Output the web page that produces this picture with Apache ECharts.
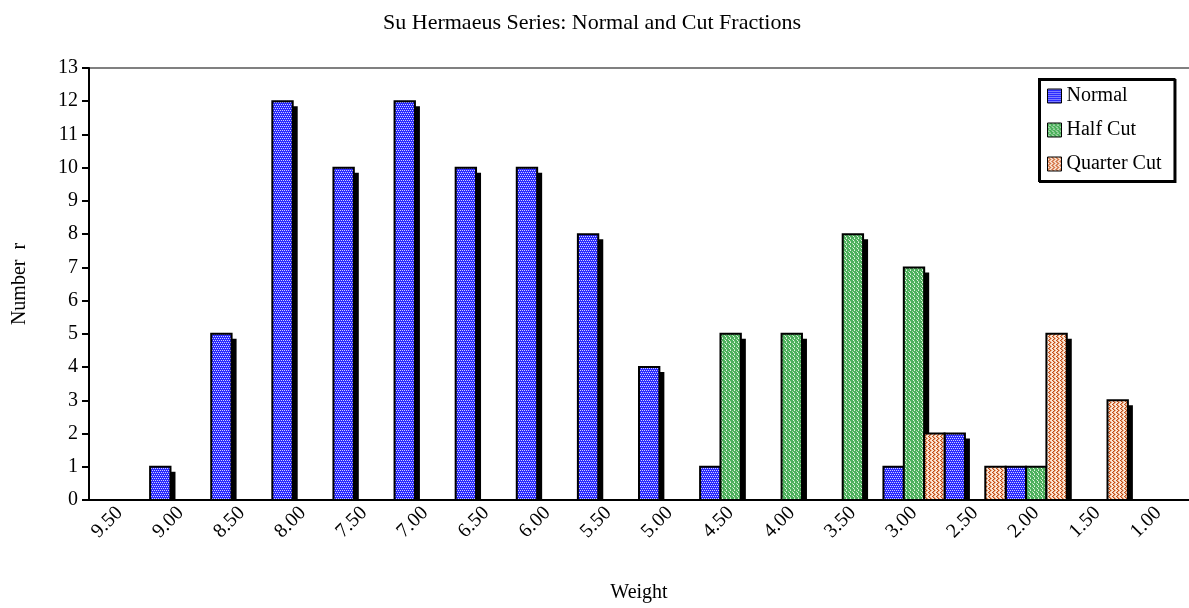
<!DOCTYPE html>
<html>
<head>
<meta charset="utf-8">
<script src="https://cdn.jsdelivr.net/npm/echarts@6/dist/echarts.min.js"></script>
<style>
  html, body { margin: 0; padding: 0; background: #fff; }
  #chart { width: 1189px; height: 608px; }
</style>
</head>
<body>
<div id="chart"></div>
<script>
// weight classes, heaviest first
const categories = ['9.50', '9.00', '8.50', '8.00', '7.50', '7.00', '6.50', '6.00', '5.50',
  '5.00', '4.50', '4.00', '3.50', '3.00', '2.50', '2.00', '1.50', '1.00'];
const normal     = [0, 1, 5, 12, 10, 12, 10, 10, 8, 4, 1, 0, 0, 1, 2, 1, 0, 0];
const halfCut    = [0, 0, 0, 0, 0, 0, 0, 0, 0, 0, 5, 5, 8, 7, 0, 1, 0, 0];
const quarterCut = [0, 0, 0, 0, 0, 0, 0, 0, 0, 0, 0, 0, 0, 2, 1, 5, 3, 0];
const yMin = 0, yMax = 13, yStep = 1;

const FONT = '"Liberation Serif", "Times New Roman", serif';

// small repeating fills, like the old office hatch patterns
function pattern(rows, colors) {
  const c = document.createElement('canvas');
  c.width = rows[0].length;
  c.height = rows.length;
  const ctx = c.getContext('2d');
  rows.forEach((row, y) => {
    for (let x = 0; x < row.length; x++) {
      ctx.fillStyle = colors[row[x]];
      ctx.fillRect(x, y, 1, 1);
    }
  });
  return { image: c, repeat: 'repeat' };
}

const blueFill = pattern([
  'abab',
  'aaaa',
  'baba',
  'aaaa'
], { a: '#2a2aff', b: '#d0d0ff' });

const greenFill = pattern([
  'abaa',
  'aaca',
  'aaba',
  'caaa'
], { a: '#4caf5c', b: '#e8f8e8', c: '#a8dca8' });

const quarterFill = pattern([
  'abcc',
  'cabc',
  'ccab',
  'cabc'
], { a: '#c04a18', b: '#e8a070', c: '#fbe6d6' });

function toPoints(arr) {
  const out = [];
  arr.forEach((v, i) => { if (v) out.push([i, v]); });
  return out;
}

// three slots per weight class, black drop shadow behind every bar
function makeRender(slot, fill) {
  return function (params, api) {
    const i = api.value(0);
    const v = api.value(1);
    const base = api.coord([i, 0]);
    const top = api.coord([i, v]);
    const band = api.size([1, 0])[0];
    const w = band / 3;
    const x = base[0] - band / 2 + slot * w;
    const h = base[1] - top[1];
    return {
      type: 'group',
      children: [
        { type: 'rect', z2: 1, shape: { x: x + 5, y: top[1] + 5, width: w, height: h - 5 }, style: { fill: '#000' } },
        { type: 'rect', z2: 10, shape: { x: x, y: top[1], width: w, height: h }, style: { fill: fill, stroke: '#000', lineWidth: 2 } }
      ]
    };
  };
}

function series(name, arr, slot, fill) {
  return {
    name: name,
    type: 'custom',
    data: toPoints(arr),
    encode: { x: 0, y: 1 },
    itemStyle: { color: fill, borderColor: '#000', borderWidth: 1 },
    renderItem: makeRender(slot, fill)
  };
}

const chart = echarts.init(document.getElementById('chart'));
chart.setOption({
  animation: false,
  textStyle: { fontFamily: FONT, color: '#000' },
  title: {
    text: 'Su Hermaeus Series: Normal and Cut Fractions',
    left: 587, top: 7, textAlign: 'center',
    textStyle: { fontFamily: FONT, fontSize: 22, fontWeight: 'normal', color: '#000' }
  },
  legend: {
    orient: 'vertical',
    left: 1039, top: 79,
    padding: [7, 13, 7, 8],
    itemWidth: 14, itemHeight: 14, itemGap: 14,
    borderColor: '#000', borderWidth: 2, backgroundColor: '#fff',
    shadowColor: '#000', shadowOffsetX: 1, shadowOffsetY: 1,
    textStyle: { fontFamily: FONT, fontSize: 20, lineHeight: 20, color: '#000' },
    data: [
      { name: 'Normal', icon: 'rect', itemStyle: { color: blueFill, borderColor: '#000', borderWidth: 1 } },
      { name: 'Half Cut', icon: 'rect', itemStyle: { color: greenFill, borderColor: '#000', borderWidth: 1 } },
      { name: 'Quarter Cut', icon: 'rect', itemStyle: { color: quarterFill, borderColor: '#000', borderWidth: 1 } }
    ]
  },
  grid: { left: 89, top: 68, width: 1103, height: 441 },
  xAxis: [{
    type: 'category',
    data: categories,
    z: 10,
    name: 'Weight',
    nameLocation: 'middle',
    nameGap: 83,
    nameTextStyle: { fontFamily: FONT, fontSize: 20, color: '#000' },
    axisLine: { lineStyle: { color: '#000', width: 2 } },
    axisTick: { length: 7, lineStyle: { color: '#000', width: 2 } },
    axisLabel: { interval: 0, rotate: 45, margin: 10, fontFamily: FONT, fontSize: 20, color: '#000' }
  }, {
    // grey frame line along the top of the plot
    type: 'category',
    data: categories,
    position: 'top',
    axisLine: { lineStyle: { color: '#808080', width: 2 } },
    axisTick: { show: false },
    axisLabel: { show: false }
  }],
  yAxis: {
    type: 'value',
    min: yMin, max: yMax, interval: yStep,
    z: 10,
    name: 'Number  r',
    nameLocation: 'middle',
    nameGap: 59,
    nameRotate: 90,
    nameTextStyle: { fontFamily: FONT, fontSize: 20, color: '#000' },
    axisLine: { show: true, lineStyle: { color: '#000', width: 2 } },
    axisTick: { show: true, length: 7, lineStyle: { color: '#000', width: 2 } },
    splitLine: { show: false },
    axisLabel: { margin: 11, fontFamily: FONT, fontSize: 20, color: '#000' }
  },
  series: [
    series('Normal', normal, 0, blueFill),
    series('Half Cut', halfCut, 1, greenFill),
    series('Quarter Cut', quarterCut, 2, quarterFill)
  ]
});
</script>
</body>
</html>
